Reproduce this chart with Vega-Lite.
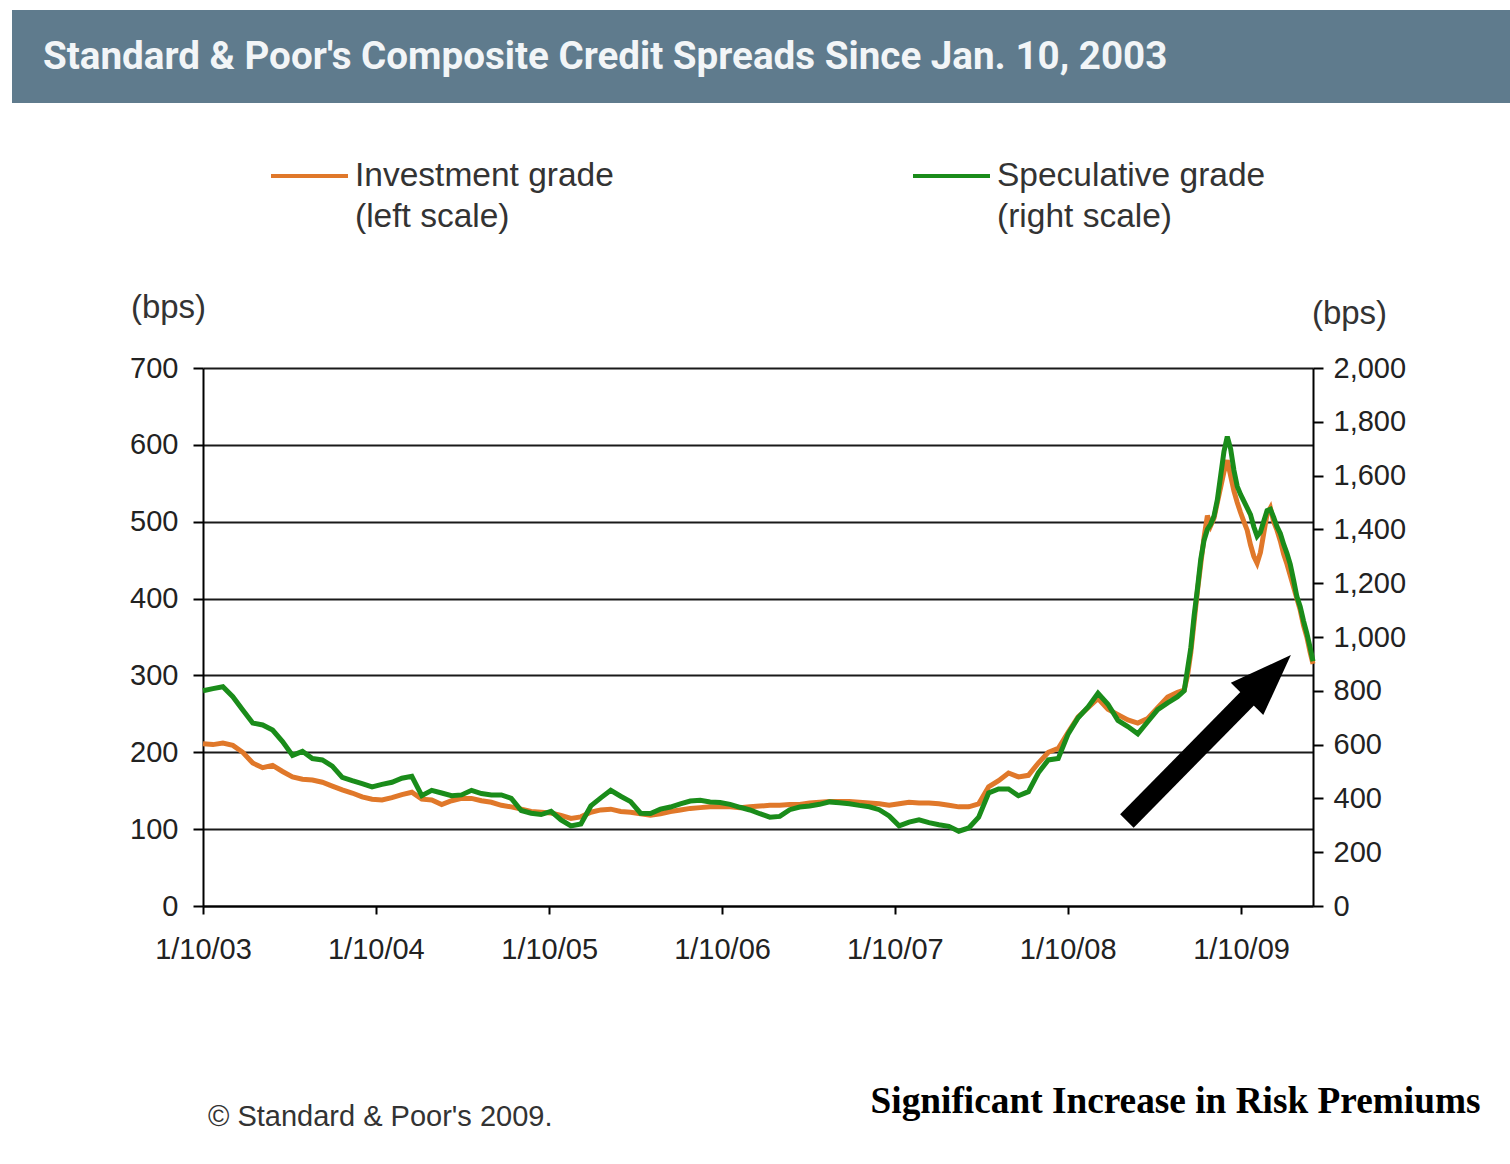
{
  "$schema": "https://vega.github.io/schema/vega-lite/v6.json",
  "autosize": {"type": "pad"},
  "padding": {"left": 12, "top": 10, "right": 0, "bottom": 0},
  "background": "#ffffff",
  "config": {
    "font": "Liberation Sans",
    "view": {"stroke": null},
    "style": {"guide-label": {"lineHeight": 41}}
  },
  "datasets": {
    "ig": [
      {"date":"2003-01-10","series":"Investment grade","bps":211},
      {"date":"2003-01-31","series":"Investment grade","bps":210},
      {"date":"2003-02-21","series":"Investment grade","bps":212},
      {"date":"2003-03-14","series":"Investment grade","bps":209},
      {"date":"2003-04-04","series":"Investment grade","bps":200},
      {"date":"2003-04-25","series":"Investment grade","bps":186},
      {"date":"2003-05-16","series":"Investment grade","bps":180},
      {"date":"2003-06-06","series":"Investment grade","bps":183},
      {"date":"2003-06-27","series":"Investment grade","bps":175},
      {"date":"2003-07-18","series":"Investment grade","bps":168},
      {"date":"2003-08-08","series":"Investment grade","bps":165},
      {"date":"2003-08-29","series":"Investment grade","bps":164},
      {"date":"2003-09-19","series":"Investment grade","bps":161},
      {"date":"2003-10-10","series":"Investment grade","bps":156},
      {"date":"2003-10-31","series":"Investment grade","bps":151},
      {"date":"2003-11-21","series":"Investment grade","bps":147},
      {"date":"2003-12-12","series":"Investment grade","bps":142},
      {"date":"2004-01-02","series":"Investment grade","bps":139},
      {"date":"2004-01-23","series":"Investment grade","bps":138},
      {"date":"2004-02-13","series":"Investment grade","bps":141},
      {"date":"2004-03-05","series":"Investment grade","bps":145},
      {"date":"2004-03-26","series":"Investment grade","bps":148},
      {"date":"2004-04-16","series":"Investment grade","bps":139},
      {"date":"2004-05-07","series":"Investment grade","bps":138},
      {"date":"2004-05-28","series":"Investment grade","bps":132},
      {"date":"2004-06-18","series":"Investment grade","bps":137},
      {"date":"2004-07-09","series":"Investment grade","bps":140},
      {"date":"2004-07-30","series":"Investment grade","bps":140},
      {"date":"2004-08-20","series":"Investment grade","bps":137},
      {"date":"2004-09-10","series":"Investment grade","bps":135},
      {"date":"2004-10-01","series":"Investment grade","bps":131},
      {"date":"2004-10-22","series":"Investment grade","bps":129},
      {"date":"2004-11-12","series":"Investment grade","bps":126},
      {"date":"2004-12-03","series":"Investment grade","bps":123},
      {"date":"2004-12-24","series":"Investment grade","bps":122},
      {"date":"2005-01-14","series":"Investment grade","bps":121},
      {"date":"2005-02-04","series":"Investment grade","bps":118},
      {"date":"2005-02-25","series":"Investment grade","bps":114},
      {"date":"2005-03-18","series":"Investment grade","bps":116},
      {"date":"2005-04-08","series":"Investment grade","bps":122},
      {"date":"2005-04-29","series":"Investment grade","bps":125},
      {"date":"2005-05-20","series":"Investment grade","bps":126},
      {"date":"2005-06-10","series":"Investment grade","bps":123},
      {"date":"2005-07-01","series":"Investment grade","bps":122},
      {"date":"2005-07-22","series":"Investment grade","bps":120},
      {"date":"2005-08-12","series":"Investment grade","bps":118},
      {"date":"2005-09-02","series":"Investment grade","bps":120},
      {"date":"2005-09-23","series":"Investment grade","bps":123},
      {"date":"2005-10-14","series":"Investment grade","bps":125},
      {"date":"2005-11-04","series":"Investment grade","bps":127},
      {"date":"2005-11-25","series":"Investment grade","bps":128},
      {"date":"2005-12-16","series":"Investment grade","bps":129},
      {"date":"2006-01-06","series":"Investment grade","bps":129},
      {"date":"2006-01-27","series":"Investment grade","bps":129},
      {"date":"2006-02-17","series":"Investment grade","bps":128},
      {"date":"2006-03-10","series":"Investment grade","bps":129},
      {"date":"2006-03-31","series":"Investment grade","bps":130},
      {"date":"2006-04-21","series":"Investment grade","bps":131},
      {"date":"2006-05-12","series":"Investment grade","bps":131},
      {"date":"2006-06-02","series":"Investment grade","bps":132},
      {"date":"2006-06-23","series":"Investment grade","bps":132},
      {"date":"2006-07-14","series":"Investment grade","bps":134},
      {"date":"2006-08-04","series":"Investment grade","bps":135},
      {"date":"2006-08-25","series":"Investment grade","bps":136},
      {"date":"2006-09-15","series":"Investment grade","bps":136},
      {"date":"2006-10-06","series":"Investment grade","bps":136},
      {"date":"2006-10-27","series":"Investment grade","bps":135},
      {"date":"2006-11-17","series":"Investment grade","bps":134},
      {"date":"2006-12-08","series":"Investment grade","bps":133},
      {"date":"2006-12-29","series":"Investment grade","bps":131},
      {"date":"2007-01-19","series":"Investment grade","bps":133},
      {"date":"2007-02-09","series":"Investment grade","bps":135},
      {"date":"2007-03-02","series":"Investment grade","bps":134},
      {"date":"2007-03-23","series":"Investment grade","bps":134},
      {"date":"2007-04-13","series":"Investment grade","bps":133},
      {"date":"2007-05-04","series":"Investment grade","bps":131},
      {"date":"2007-05-25","series":"Investment grade","bps":129},
      {"date":"2007-06-15","series":"Investment grade","bps":129},
      {"date":"2007-07-06","series":"Investment grade","bps":133},
      {"date":"2007-07-27","series":"Investment grade","bps":155},
      {"date":"2007-08-17","series":"Investment grade","bps":163},
      {"date":"2007-09-07","series":"Investment grade","bps":173},
      {"date":"2007-09-28","series":"Investment grade","bps":168},
      {"date":"2007-10-19","series":"Investment grade","bps":170},
      {"date":"2007-11-09","series":"Investment grade","bps":186},
      {"date":"2007-11-30","series":"Investment grade","bps":200},
      {"date":"2007-12-21","series":"Investment grade","bps":205},
      {"date":"2008-01-11","series":"Investment grade","bps":226},
      {"date":"2008-02-01","series":"Investment grade","bps":246},
      {"date":"2008-02-22","series":"Investment grade","bps":258},
      {"date":"2008-03-14","series":"Investment grade","bps":270},
      {"date":"2008-04-04","series":"Investment grade","bps":256},
      {"date":"2008-04-25","series":"Investment grade","bps":249},
      {"date":"2008-05-16","series":"Investment grade","bps":242},
      {"date":"2008-06-06","series":"Investment grade","bps":238},
      {"date":"2008-06-27","series":"Investment grade","bps":244},
      {"date":"2008-07-18","series":"Investment grade","bps":258},
      {"date":"2008-08-08","series":"Investment grade","bps":272},
      {"date":"2008-08-29","series":"Investment grade","bps":278},
      {"date":"2008-09-12","series":"Investment grade","bps":281},
      {"date":"2008-09-19","series":"Investment grade","bps":300},
      {"date":"2008-09-26","series":"Investment grade","bps":330},
      {"date":"2008-10-03","series":"Investment grade","bps":370},
      {"date":"2008-10-10","series":"Investment grade","bps":410},
      {"date":"2008-10-17","series":"Investment grade","bps":445},
      {"date":"2008-10-24","series":"Investment grade","bps":480},
      {"date":"2008-10-31","series":"Investment grade","bps":508},
      {"date":"2008-11-07","series":"Investment grade","bps":495},
      {"date":"2008-11-14","series":"Investment grade","bps":505},
      {"date":"2008-11-21","series":"Investment grade","bps":525},
      {"date":"2008-11-28","series":"Investment grade","bps":545},
      {"date":"2008-12-05","series":"Investment grade","bps":565},
      {"date":"2008-12-12","series":"Investment grade","bps":580},
      {"date":"2008-12-19","series":"Investment grade","bps":560},
      {"date":"2008-12-26","series":"Investment grade","bps":540},
      {"date":"2009-01-02","series":"Investment grade","bps":525},
      {"date":"2009-01-09","series":"Investment grade","bps":512},
      {"date":"2009-01-16","series":"Investment grade","bps":500},
      {"date":"2009-01-23","series":"Investment grade","bps":489},
      {"date":"2009-01-30","series":"Investment grade","bps":470},
      {"date":"2009-02-06","series":"Investment grade","bps":455},
      {"date":"2009-02-13","series":"Investment grade","bps":446},
      {"date":"2009-02-20","series":"Investment grade","bps":460},
      {"date":"2009-02-27","series":"Investment grade","bps":485},
      {"date":"2009-03-06","series":"Investment grade","bps":510},
      {"date":"2009-03-13","series":"Investment grade","bps":518},
      {"date":"2009-03-20","series":"Investment grade","bps":500},
      {"date":"2009-03-27","series":"Investment grade","bps":489},
      {"date":"2009-04-03","series":"Investment grade","bps":475},
      {"date":"2009-04-10","series":"Investment grade","bps":458},
      {"date":"2009-04-17","series":"Investment grade","bps":445},
      {"date":"2009-04-24","series":"Investment grade","bps":430},
      {"date":"2009-05-01","series":"Investment grade","bps":415},
      {"date":"2009-05-08","series":"Investment grade","bps":400},
      {"date":"2009-05-15","series":"Investment grade","bps":385},
      {"date":"2009-05-22","series":"Investment grade","bps":365},
      {"date":"2009-05-29","series":"Investment grade","bps":350},
      {"date":"2009-06-05","series":"Investment grade","bps":330},
      {"date":"2009-06-11","series":"Investment grade","bps":315}
    ],
    "sg": [
      {"date":"2003-01-10","series":"Speculative grade","bps":800},
      {"date":"2003-01-31","series":"Speculative grade","bps":808},
      {"date":"2003-02-21","series":"Speculative grade","bps":815},
      {"date":"2003-03-14","series":"Speculative grade","bps":778},
      {"date":"2003-04-04","series":"Speculative grade","bps":729},
      {"date":"2003-04-25","series":"Speculative grade","bps":680},
      {"date":"2003-05-16","series":"Speculative grade","bps":673},
      {"date":"2003-06-06","series":"Speculative grade","bps":654},
      {"date":"2003-06-27","series":"Speculative grade","bps":611},
      {"date":"2003-07-18","series":"Speculative grade","bps":560},
      {"date":"2003-08-08","series":"Speculative grade","bps":575},
      {"date":"2003-08-29","series":"Speculative grade","bps":548},
      {"date":"2003-09-19","series":"Speculative grade","bps":543},
      {"date":"2003-10-10","series":"Speculative grade","bps":520},
      {"date":"2003-10-31","series":"Speculative grade","bps":478},
      {"date":"2003-11-21","series":"Speculative grade","bps":466},
      {"date":"2003-12-12","series":"Speculative grade","bps":455},
      {"date":"2004-01-02","series":"Speculative grade","bps":443},
      {"date":"2004-01-23","series":"Speculative grade","bps":452},
      {"date":"2004-02-13","series":"Speculative grade","bps":460},
      {"date":"2004-03-05","series":"Speculative grade","bps":475},
      {"date":"2004-03-26","series":"Speculative grade","bps":482},
      {"date":"2004-04-16","series":"Speculative grade","bps":410},
      {"date":"2004-05-07","series":"Speculative grade","bps":430},
      {"date":"2004-05-28","series":"Speculative grade","bps":420},
      {"date":"2004-06-18","series":"Speculative grade","bps":410},
      {"date":"2004-07-09","series":"Speculative grade","bps":413},
      {"date":"2004-07-30","series":"Speculative grade","bps":430},
      {"date":"2004-08-20","series":"Speculative grade","bps":418},
      {"date":"2004-09-10","series":"Speculative grade","bps":413},
      {"date":"2004-10-01","series":"Speculative grade","bps":413},
      {"date":"2004-10-22","series":"Speculative grade","bps":400},
      {"date":"2004-11-12","series":"Speculative grade","bps":355},
      {"date":"2004-12-03","series":"Speculative grade","bps":345},
      {"date":"2004-12-24","series":"Speculative grade","bps":340},
      {"date":"2005-01-14","series":"Speculative grade","bps":352},
      {"date":"2005-02-04","series":"Speculative grade","bps":320},
      {"date":"2005-02-25","series":"Speculative grade","bps":298},
      {"date":"2005-03-18","series":"Speculative grade","bps":305},
      {"date":"2005-04-08","series":"Speculative grade","bps":372},
      {"date":"2005-04-29","series":"Speculative grade","bps":402},
      {"date":"2005-05-20","series":"Speculative grade","bps":430},
      {"date":"2005-06-10","series":"Speculative grade","bps":408},
      {"date":"2005-07-01","series":"Speculative grade","bps":388},
      {"date":"2005-07-22","series":"Speculative grade","bps":345},
      {"date":"2005-08-12","series":"Speculative grade","bps":344},
      {"date":"2005-09-02","series":"Speculative grade","bps":360},
      {"date":"2005-09-23","series":"Speculative grade","bps":368},
      {"date":"2005-10-14","series":"Speculative grade","bps":380},
      {"date":"2005-11-04","series":"Speculative grade","bps":390},
      {"date":"2005-11-25","series":"Speculative grade","bps":393},
      {"date":"2005-12-16","series":"Speculative grade","bps":387},
      {"date":"2006-01-06","series":"Speculative grade","bps":385},
      {"date":"2006-01-27","series":"Speculative grade","bps":378},
      {"date":"2006-02-17","series":"Speculative grade","bps":367},
      {"date":"2006-03-10","series":"Speculative grade","bps":357},
      {"date":"2006-03-31","series":"Speculative grade","bps":343},
      {"date":"2006-04-21","series":"Speculative grade","bps":330},
      {"date":"2006-05-12","series":"Speculative grade","bps":333},
      {"date":"2006-06-02","series":"Speculative grade","bps":358},
      {"date":"2006-06-23","series":"Speculative grade","bps":368},
      {"date":"2006-07-14","series":"Speculative grade","bps":372},
      {"date":"2006-08-04","series":"Speculative grade","bps":378},
      {"date":"2006-08-25","series":"Speculative grade","bps":387},
      {"date":"2006-09-15","series":"Speculative grade","bps":384},
      {"date":"2006-10-06","series":"Speculative grade","bps":380},
      {"date":"2006-10-27","series":"Speculative grade","bps":374},
      {"date":"2006-11-17","series":"Speculative grade","bps":369},
      {"date":"2006-12-08","series":"Speculative grade","bps":358},
      {"date":"2006-12-29","series":"Speculative grade","bps":335},
      {"date":"2007-01-19","series":"Speculative grade","bps":298},
      {"date":"2007-02-09","series":"Speculative grade","bps":312},
      {"date":"2007-03-02","series":"Speculative grade","bps":320},
      {"date":"2007-03-23","series":"Speculative grade","bps":310},
      {"date":"2007-04-13","series":"Speculative grade","bps":302},
      {"date":"2007-05-04","series":"Speculative grade","bps":296},
      {"date":"2007-05-25","series":"Speculative grade","bps":278},
      {"date":"2007-06-15","series":"Speculative grade","bps":290},
      {"date":"2007-07-06","series":"Speculative grade","bps":330},
      {"date":"2007-07-27","series":"Speculative grade","bps":420},
      {"date":"2007-08-17","series":"Speculative grade","bps":435},
      {"date":"2007-09-07","series":"Speculative grade","bps":435},
      {"date":"2007-09-28","series":"Speculative grade","bps":410},
      {"date":"2007-10-19","series":"Speculative grade","bps":425},
      {"date":"2007-11-09","series":"Speculative grade","bps":495},
      {"date":"2007-11-30","series":"Speculative grade","bps":543},
      {"date":"2007-12-21","series":"Speculative grade","bps":548},
      {"date":"2008-01-11","series":"Speculative grade","bps":640},
      {"date":"2008-02-01","series":"Speculative grade","bps":700},
      {"date":"2008-02-22","series":"Speculative grade","bps":740},
      {"date":"2008-03-14","series":"Speculative grade","bps":791},
      {"date":"2008-04-04","series":"Speculative grade","bps":750},
      {"date":"2008-04-25","series":"Speculative grade","bps":690},
      {"date":"2008-05-16","series":"Speculative grade","bps":667},
      {"date":"2008-06-06","series":"Speculative grade","bps":640},
      {"date":"2008-06-27","series":"Speculative grade","bps":685},
      {"date":"2008-07-18","series":"Speculative grade","bps":730},
      {"date":"2008-08-08","series":"Speculative grade","bps":755},
      {"date":"2008-08-29","series":"Speculative grade","bps":778},
      {"date":"2008-09-12","series":"Speculative grade","bps":800},
      {"date":"2008-09-19","series":"Speculative grade","bps":880},
      {"date":"2008-09-26","series":"Speculative grade","bps":960},
      {"date":"2008-10-03","series":"Speculative grade","bps":1080},
      {"date":"2008-10-10","series":"Speculative grade","bps":1180},
      {"date":"2008-10-17","series":"Speculative grade","bps":1290},
      {"date":"2008-10-24","series":"Speculative grade","bps":1360},
      {"date":"2008-10-31","series":"Speculative grade","bps":1400},
      {"date":"2008-11-07","series":"Speculative grade","bps":1420},
      {"date":"2008-11-14","series":"Speculative grade","bps":1450},
      {"date":"2008-11-21","series":"Speculative grade","bps":1510},
      {"date":"2008-11-28","series":"Speculative grade","bps":1600},
      {"date":"2008-12-05","series":"Speculative grade","bps":1690},
      {"date":"2008-12-12","series":"Speculative grade","bps":1745},
      {"date":"2008-12-19","series":"Speculative grade","bps":1700},
      {"date":"2008-12-26","series":"Speculative grade","bps":1620},
      {"date":"2009-01-02","series":"Speculative grade","bps":1560},
      {"date":"2009-01-09","series":"Speculative grade","bps":1530},
      {"date":"2009-01-16","series":"Speculative grade","bps":1505},
      {"date":"2009-01-23","series":"Speculative grade","bps":1480},
      {"date":"2009-01-30","series":"Speculative grade","bps":1455},
      {"date":"2009-02-06","series":"Speculative grade","bps":1410},
      {"date":"2009-02-13","series":"Speculative grade","bps":1375},
      {"date":"2009-02-20","series":"Speculative grade","bps":1390},
      {"date":"2009-02-27","series":"Speculative grade","bps":1430},
      {"date":"2009-03-06","series":"Speculative grade","bps":1470},
      {"date":"2009-03-13","series":"Speculative grade","bps":1475},
      {"date":"2009-03-20","series":"Speculative grade","bps":1445},
      {"date":"2009-03-27","series":"Speculative grade","bps":1410},
      {"date":"2009-04-03","series":"Speculative grade","bps":1385},
      {"date":"2009-04-10","series":"Speculative grade","bps":1345},
      {"date":"2009-04-17","series":"Speculative grade","bps":1311},
      {"date":"2009-04-24","series":"Speculative grade","bps":1270},
      {"date":"2009-05-01","series":"Speculative grade","bps":1212},
      {"date":"2009-05-08","series":"Speculative grade","bps":1150},
      {"date":"2009-05-15","series":"Speculative grade","bps":1113},
      {"date":"2009-05-22","series":"Speculative grade","bps":1060},
      {"date":"2009-05-29","series":"Speculative grade","bps":1014},
      {"date":"2009-06-05","series":"Speculative grade","bps":960},
      {"date":"2009-06-11","series":"Speculative grade","bps":910}
    ],
    "arrow": [
      {"date":"2008-05-14","bps":110.6,"date2":"2009-02-08","bps2":279.7}
    ],
    "arrowhead": [
      {"date":"2009-03-10","bps":298}
    ]
  },
  "spacing": 265,
  "bounds": "flush",
  "vconcat": [
    {
      "width": 1498,
      "height": 93,
      "data": {"values": []},
      "mark": {"type": "point", "opacity": 0},
      "view": {"fill": "#5f7b8d", "stroke": null},
      "title": {
        "text": "Standard & Poor's Composite Credit Spreads Since Jan. 10, 2003",
        "orient": "bottom",
        "anchor": "start",
        "frame": "group",
        "offset": -46.5,
        "baseline": "middle",
        "dx": 31,
        "font": "Roboto",
        "fontSize": 38.6,
        "fontWeight": "bold",
        "color": "#f2f5f7"
      }
    },
    {
      "spacing": 0,
      "bounds": "flush",
      "hconcat": [
        {
          "width": 191,
          "height": 538,
          "data": {"values": []},
          "mark": {"type": "point", "opacity": 0},
          "view": {"stroke": null},
          "title": {
            "text": "© Standard & Poor's 2009.",
            "orient": "bottom",
            "anchor": "start",
            "frame": "group",
            "offset": 211,
            "baseline": "middle",
            "dx": 196,
            "font": "Liberation Sans",
            "fontSize": 29,
            "fontWeight": "normal",
            "color": "#333333"
          }
        },
        {
          "width": 1110,
          "height": 538,
          "view": {"stroke": null},
          "resolve": {"scale": {"y": "independent"}},
          "layer": [
            {
              "data": {"name": "ig"},
              "mark": {"type": "line", "strokeWidth": 5},
              "encoding": {
                "x": {
                  "field": "date", "type": "temporal",
                  "scale": {"type": "utc", "nice": false, "domain": [{"year":2003,"month":1,"date":10,"utc":true},{"year":2009,"month":6,"date":11,"utc":true}]},
                  "axis": {
                    "values": [
                      {"year":2003,"month":1,"date":10,"utc":true},
                      {"year":2004,"month":1,"date":10,"utc":true},
                      {"year":2005,"month":1,"date":10,"utc":true},
                      {"year":2006,"month":1,"date":10,"utc":true},
                      {"year":2007,"month":1,"date":10,"utc":true},
                      {"year":2008,"month":1,"date":10,"utc":true},
                      {"year":2009,"month":1,"date":10,"utc":true}
                    ],
                    "labelExpr": "utcFormat(datum.value, '%-m/%d/%y')",
                    "grid": false,
                    "domainColor": "#000000", "domainWidth": 2,
                    "tickColor": "#000000", "tickWidth": 2, "tickSize": 8,
                    "labelFont": "Liberation Sans", "labelFontSize": 29, "labelColor": "#222222",
                    "labelPadding": 21, "labelFlush": false, "labelOverlap": false,
                    "title": "Significant Increase in Risk Premiums",
                    "titleX": 1277, "titleY": 195, "titleAlign": "right", "titleBaseline": "middle", "titleAngle": 0,
                    "titleFont": "Liberation Serif", "titleFontSize": 37.3, "titleFontWeight": "bold", "titleColor": "#000000"
                  }
                },
                "y": {
                  "field": "bps", "type": "quantitative",
                  "scale": {"domain": [0, 700], "nice": false},
                  "axis": {
                    "orient": "left",
                    "values": [0, 100, 200, 300, 400, 500, 600, 700],
                    "grid": true, "gridColor": "#1a1a1a", "gridWidth": 2, "gridOpacity": 1,
                    "domainColor": "#000000", "domainWidth": 2,
                    "tickColor": "#000000", "tickWidth": 2, "tickSize": 10,
                    "labelFont": "Liberation Sans", "labelFontSize": 29, "labelColor": "#222222",
                    "labelPadding": 15, "labelFlush": false,
                    "title": "(bps)", "titleAngle": 0, "titleX": -35, "titleY": -61,
                    "titleAlign": "center", "titleBaseline": "middle",
                    "titleFont": "Liberation Sans", "titleFontSize": 33, "titleFontWeight": "normal", "titleColor": "#333333"
                  }
                },
                "color": {
                  "field": "series", "type": "nominal",
                  "scale": {"domain": ["Investment grade", "Speculative grade"], "range": ["#e0782a", "#1a8c1a"]},
                  "legend": {
                    "orient": "none", "legendX": 257, "legendY": 125.5,
                    "direction": "horizontal", "title": null, "padding": 0,
                    "symbolType": "M-1,0L1,0", "symbolSize": 5929, "symbolStrokeWidth": 4,
                    "labelFont": "Liberation Sans", "labelFontSize": 33.5, "labelColor": "#333333",
                    "labelOffset": 5, "labelLimit": 600, "columnPadding": 291,
                    "labelExpr": "datum.label === 'Investment grade' ? ['Investment grade', '(left scale)'] : ['Speculative grade', '(right scale)']"
                  }
                }
              }
            },
            {
              "data": {"name": "sg"},
              "mark": {"type": "line", "strokeWidth": 5},
              "encoding": {
                "x": {"field": "date", "type": "temporal", "scale": {"type": "utc"}},
                "y": {
                  "field": "bps", "type": "quantitative",
                  "scale": {"domain": [0, 2000], "nice": false},
                  "axis": {
                    "orient": "right",
                    "values": [0, 200, 400, 600, 800, 1000, 1200, 1400, 1600, 1800, 2000],
                    "labelExpr": "datum.value >= 1000 ? floor(datum.value / 1000) + ',' + (datum.value % 1000 == 0 ? '000' : '' + (datum.value % 1000)) : '' + datum.value",
                    "grid": false,
                    "domainColor": "#000000", "domainWidth": 2,
                    "tickColor": "#000000", "tickWidth": 2, "tickSize": 10,
                    "labelFont": "Liberation Sans", "labelFontSize": 29, "labelColor": "#222222",
                    "labelPadding": 10, "labelFlush": false,
                    "title": "(bps)", "titleAngle": 0, "titleX": 36, "titleY": -55,
                    "titleAlign": "center", "titleBaseline": "middle",
                    "titleFont": "Liberation Sans", "titleFontSize": 33, "titleFontWeight": "normal", "titleColor": "#333333"
                  }
                },
                "color": {"field": "series", "type": "nominal"}
              }
            },
            {
              "data": {"name": "arrow"},
              "mark": {"type": "rule", "strokeWidth": 19, "color": "#000000", "strokeCap": "butt"},
              "encoding": {
                "x": {"field": "date", "type": "temporal", "scale": {"type": "utc"}},
                "x2": {"field": "date2"},
                "y": {"field": "bps", "type": "quantitative", "scale": {"domain": [0, 700], "nice": false}, "axis": null},
                "y2": {"field": "bps2"}
              }
            },
            {
              "data": {"name": "arrowhead"},
              "mark": {"type": "point", "shape": "M0,-1L0.74,1L-0.74,1Z", "filled": true, "size": 3844, "angle": 45, "color": "#000000", "opacity": 1},
              "encoding": {
                "x": {"field": "date", "type": "temporal", "scale": {"type": "utc"}},
                "y": {"field": "bps", "type": "quantitative", "scale": {"domain": [0, 700], "nice": false}, "axis": null}
              }
            }
          ]
        }
      ]
    }
  ]
}
